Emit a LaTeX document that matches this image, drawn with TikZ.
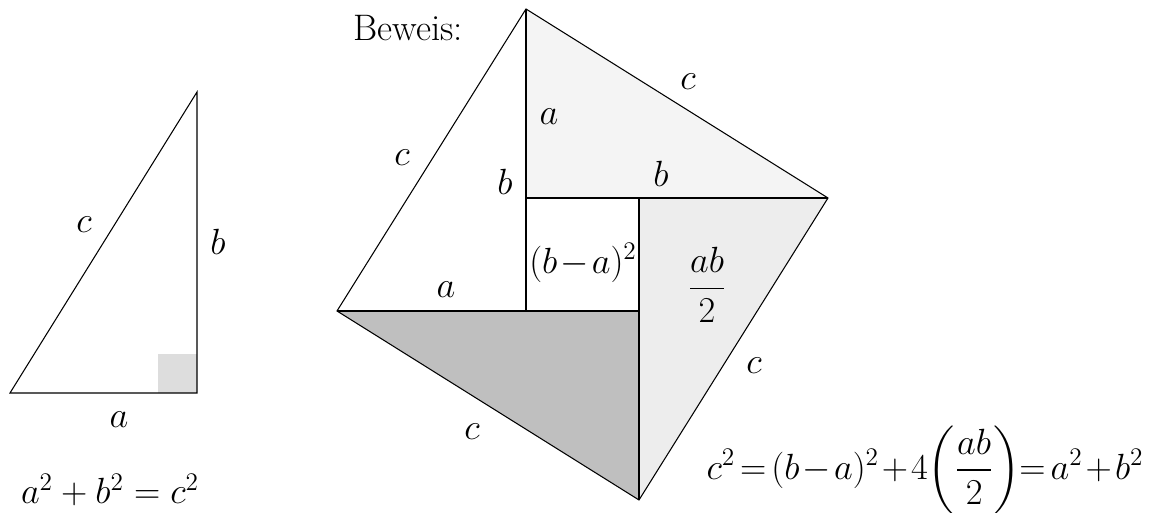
\documentclass[tikz,border=0pt]{standalone}
\usepackage{amssymb,amsfonts,amsmath}
\usepackage[svgnames]{xcolor}
\usetikzlibrary{positioning}

\definecolor{lightfill}{HTML}{F4F4F4}
\definecolor{midfill}{HTML}{EDEDED}
\definecolor{darkfill}{HTML}{BFBFBF}
\definecolor{anglefill}{HTML}{DDDDDD}

\newcommand{\tightmath}{\medmuskip=1.5mu\relax\thickmuskip=2.5mu\relax}

\tikzset{
  edge/.style={line width=0.6pt, black},
  lbl/.style={inner sep=1pt, font=\fontsize{21}{25}\selectfont},
  eqn/.style={inner sep=1pt, font=\fontsize{21}{25}\selectfont\tightmath},
}

\begin{document}
\begin{tikzpicture}
  \useasboundingbox (0,0) rectangle (23.02,10.26);

  % Left triangle
  \coordinate (A) at (0.2,2.4);
  \coordinate (C) at (3.94,2.4);
  \coordinate (B) at (3.94,8.42);
  \fill[anglefill] (3.16,2.4) rectangle (3.94,3.18);
  \draw[edge] (A) -- (C) -- (B) -- cycle;

  \node[lbl] (lc) at (1.68,5.76) {$c$};
  \node[lbl] (lb) at (4.36,5.42) {$b$};
  \node[lbl] (la) at (2.38,1.86) {$a$};
  \node[lbl] (leq) at (2.2,0.46) {$a^2+b^2=c^2$};

  % Square of four triangles
  \coordinate (L) at (6.74,4.04);
  \coordinate (P4) at (10.52,4.04);
  \coordinate (T) at (10.52,10.08);
  \coordinate (P1) at (10.52,6.30);
  \coordinate (R) at (16.56,6.30);
  \coordinate (P2) at (12.78,6.30);
  \coordinate (P3) at (12.78,4.04);
  \coordinate (D) at (12.78,0.26);

  \fill[lightfill] (T) -- (R) -- (P1) -- cycle;
  \fill[midfill] (R) -- (D) -- (P2) -- cycle;
  \fill[darkfill] (L) -- (P3) -- (D) -- cycle;

  \draw[edge] (T) -- (R) -- (D) -- (L) -- cycle;
  \draw[edge] (T) -- (P4);
  \draw[edge] (P1) -- (R);
  \draw[edge] (P2) -- (D);
  \draw[edge] (L) -- (P3);

  % Labels
  \node[lbl] (beweis) at (8.16,9.70) {Beweis:};
  \node[lbl] (rc1) at (13.76,8.62) {$c$};
  \node[lbl] (ra1) at (10.98,7.92) {$a$};
  \node[lbl] (rc2) at (8.04,7.10) {$c$};
  \node[lbl] (rb1) at (10.10,6.62) {$b$};
  \node[lbl] (rb2) at (13.22,6.78) {$b$};
  \node[eqn, inner sep=0pt] (sq) at (11.66,5.00) {$(b-a)^2$};
  \node[lbl] (frac) at (14.14,4.56) {$\dfrac{ab}{2}$};
  \node[lbl] (ra2) at (8.92,4.46) {$a$};
  \node[lbl] (rc3) at (15.08,2.94) {$c$};
  \node[lbl] (rc4) at (9.44,1.62) {$c$};
  \node[eqn] (req) at (18.5,0.86) {$c^2=(b-a)^2+4\!\left(\dfrac{ab}{2}\right)\!=a^2+b^2$};
\end{tikzpicture}
\end{document}
